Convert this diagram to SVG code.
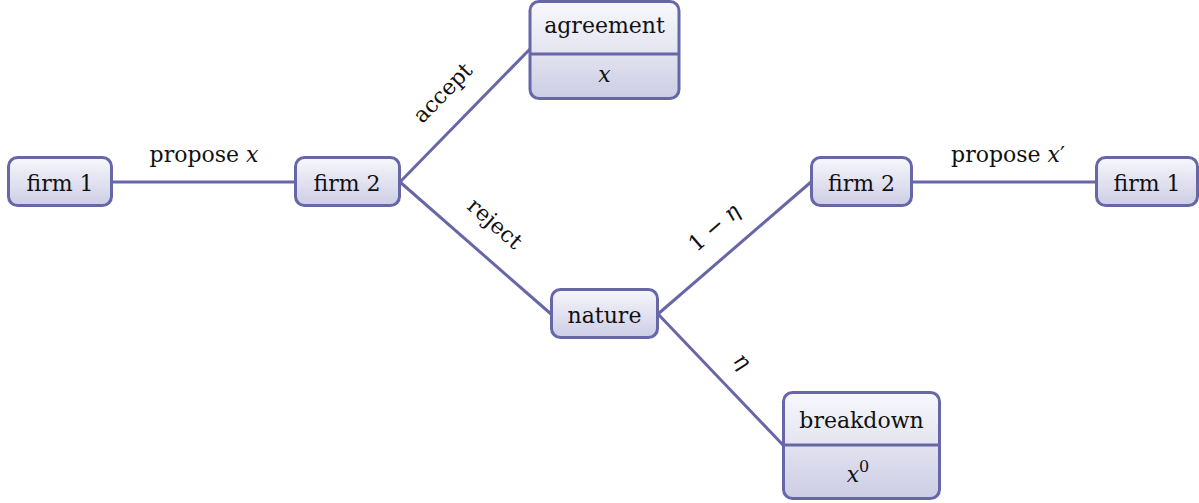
<svg xmlns="http://www.w3.org/2000/svg" width="1199" height="503" viewBox="0 0 1199 503">
  <defs>
    <linearGradient id="fill" x1="0" y1="0" x2="0" y2="1">
      <stop offset="0" stop-color="#f7f7fc"/>
      <stop offset="1" stop-color="#cdcde5"/>
    </linearGradient>
    <linearGradient id="fillTop" x1="0" y1="0" x2="0" y2="1">
      <stop offset="0" stop-color="#f7f7fc"/>
      <stop offset="1" stop-color="#e4e4f1"/>
    </linearGradient>
    <linearGradient id="fillBottom" x1="0" y1="0" x2="0" y2="1">
      <stop offset="0" stop-color="#e2e2f0"/>
      <stop offset="1" stop-color="#cdcde5"/>
    </linearGradient>
  </defs>
  <style>
    .box { fill: url(#fill); stroke: #6767a8; stroke-width: 3; }
    .top { fill: url(#fillTop); stroke: none; }
    .bottom { fill: url(#fillBottom); stroke: none; }
    .frame { fill: none; stroke: #6767a8; stroke-width: 3; }
    .edge { fill: none; stroke: #6767a8; stroke-width: 3; }
    .t { font-family: 'DejaVu Serif', serif; font-size: 22px; fill: #111; text-anchor: middle; }
    .math { font-style: italic; }
  </style>

  <!-- connectors and their labels -->
  <g id="connectors">
    <line class="edge" x1="112" y1="182" x2="295" y2="182"/>
    <line class="edge" x1="400" y1="182" x2="530" y2="49"/>
    <line class="edge" x1="400" y1="182" x2="551" y2="314"/>
    <line class="edge" x1="658" y1="314" x2="811" y2="182"/>
    <line class="edge" x1="658" y1="314" x2="783" y2="445"/>
    <line class="edge" x1="912" y1="182" x2="1096" y2="182"/>

    <text class="t" x="204" y="162">propose <tspan class="math">x</tspan></text>
    <text class="t" transform="translate(448,98) rotate(-45.7)">accept</text>
    <text class="t" transform="translate(490,229) rotate(41.2)">reject</text>
    <text class="t" transform="translate(719,233) rotate(-40.8)">1 − <tspan class="math">η</tspan></text>
    <text class="t math" transform="translate(737,366) rotate(46.3)">η</text>
    <text class="t" x="1008" y="162">propose <tspan class="math">x</tspan>′</text>
  </g>

  <g id="firm1-start">
    <rect class="box" x="8.5" y="157.5" width="103" height="48" rx="9"/>
    <text class="t" x="60" y="191">firm 1</text>
  </g>

  <g id="firm2-respond">
    <rect class="box" x="295.5" y="157.5" width="104" height="48" rx="9"/>
    <text class="t" x="347" y="191">firm 2</text>
  </g>

  <g id="agreement">
    <path class="top" d="M530,54 V11 a9,9 0 0 1 9,-9 H670 a9,9 0 0 1 9,9 V54 Z"/>
    <path class="bottom" d="M530,54 V89 a9,9 0 0 0 9,9 H670 a9,9 0 0 0 9,-9 V54 Z"/>
    <rect class="frame" x="530" y="1.5" width="149" height="97" rx="9"/>
    <line class="frame" x1="530" y1="54" x2="679" y2="54"/>
    <text class="t" x="604.5" y="33">agreement</text>
    <text class="t math" x="604.5" y="82">x</text>
  </g>

  <g id="nature">
    <rect class="box" x="551.5" y="289.5" width="106" height="48" rx="9"/>
    <text class="t" x="604.5" y="323">nature</text>
  </g>

  <g id="firm2-next">
    <rect class="box" x="811.5" y="157.5" width="100" height="48" rx="9"/>
    <text class="t" x="861.5" y="191">firm 2</text>
  </g>

  <g id="firm1-next">
    <rect class="box" x="1096.5" y="157.5" width="101" height="48" rx="9"/>
    <text class="t" x="1147" y="191">firm 1</text>
  </g>

  <g id="breakdown">
    <path class="top" d="M783,445 V402 a9,9 0 0 1 9,-9 H931 a9,9 0 0 1 9,9 V445 Z"/>
    <path class="bottom" d="M783,445 V489 a9,9 0 0 0 9,9 H931 a9,9 0 0 0 9,-9 V445 Z"/>
    <rect class="frame" x="783.5" y="392.5" width="156" height="106" rx="9"/>
    <line class="frame" x1="783.5" y1="445" x2="939.5" y2="445"/>
    <text class="t" x="861.5" y="428">breakdown</text>
    <text class="t" x="858" y="482"><tspan class="math">x</tspan><tspan font-size="16" dy="-10">0</tspan></text>
  </g>
</svg>
